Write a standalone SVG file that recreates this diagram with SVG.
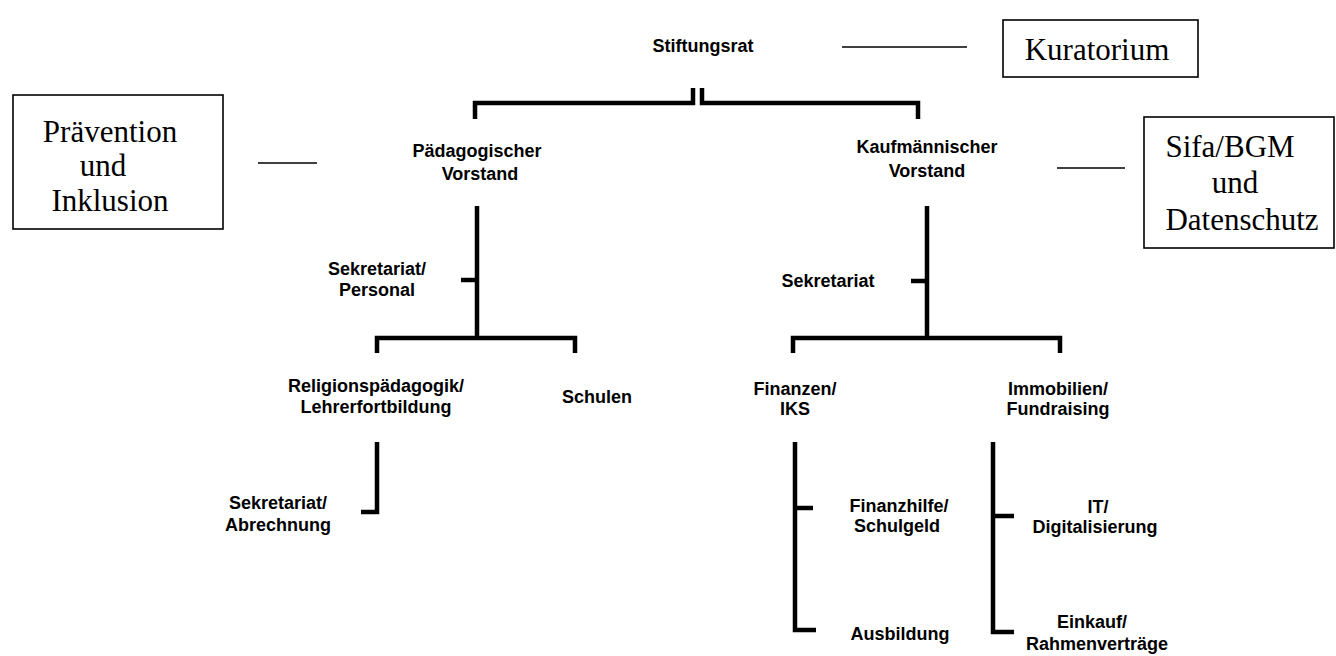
<svg xmlns="http://www.w3.org/2000/svg" width="1336" height="656" viewBox="0 0 1336 656">
<style>
.t{font-family:"Liberation Sans",Arial,sans-serif;font-weight:bold;font-size:18px;fill:#000;text-anchor:middle}
.s{font-family:"Liberation Serif","Times New Roman",serif;font-size:31px;fill:#000;text-anchor:middle}
.box{fill:#fff;stroke:#000;stroke-width:1.6}
.thin{stroke:#000;stroke-width:1.6;fill:none}
.thick{stroke:#000;stroke-width:4.5;fill:none;stroke-linejoin:miter;stroke-linecap:butt}
</style>
<rect width="1336" height="656" fill="#fff"/>
<g id="connectors">
<path class="thick" d="M693,88 V103 H475 V119"/>
<path class="thick" d="M702,88 V103 H918 V119"/>
<path class="thick" d="M477,206 V338"/>
<path class="thick" d="M461,280 H477"/>
<path class="thick" d="M377,353 V338 H575 V353"/>
<path class="thick" d="M377,442 V512 H361"/>
<path class="thick" d="M927,206 V338"/>
<path class="thick" d="M911,281 H927"/>
<path class="thick" d="M793,353 V338 H1060 V353"/>
<path class="thick" d="M795,442 V630 H816"/>
<path class="thick" d="M795,508 H813"/>
<path class="thick" d="M993,442 V632 H1014"/>
<path class="thick" d="M993,516 H1014"/>
<path class="thin" d="M842,47 H967"/>
<path class="thin" d="M258,163 H317"/>
<path class="thin" d="M1057,168 H1125"/>
</g>
<g id="stiftungsrat"><text class="t" x="703" y="52">Stiftungsrat</text></g>
<g id="kuratorium"><rect class="box" x="1003" y="20" width="195" height="57"/><text class="s" x="1097" y="60">Kuratorium</text></g>
<g id="praevention"><rect class="box" x="13" y="95" width="210" height="134"/><text class="s" x="110" y="142">Prävention</text><text class="s" x="103" y="176">und</text><text class="s" x="110" y="211">Inklusion</text></g>
<g id="sifa"><rect class="box" x="1144" y="117" width="190" height="131"/><text class="s" x="1230" y="157">Sifa/BGM</text><text class="s" x="1235" y="193">und</text><text class="s" x="1242" y="230">Datenschutz</text></g>
<g id="paed-vorstand"><text class="t" x="477" y="157">Pädagogischer</text><text class="t" x="480" y="180">Vorstand</text></g>
<g id="kauf-vorstand"><text class="t" x="927" y="153">Kaufmännischer</text><text class="t" x="927" y="177">Vorstand</text></g>
<g id="sekretariat-personal"><text class="t" x="377" y="275">Sekretariat/</text><text class="t" x="377" y="296">Personal</text></g>
<g id="sekretariat"><text class="t" x="828" y="287">Sekretariat</text></g>
<g id="religion"><text class="t" x="376" y="392">Religionspädagogik/</text><text class="t" x="376" y="413">Lehrerfortbildung</text></g>
<g id="schulen"><text class="t" x="597" y="403">Schulen</text></g>
<g id="sekretariat-abrechnung"><text class="t" x="278" y="509">Sekretariat/</text><text class="t" x="278" y="531">Abrechnung</text></g>
<g id="finanzen"><text class="t" x="795" y="395">Finanzen/</text><text class="t" x="795" y="415">IKS</text></g>
<g id="immobilien"><text class="t" x="1058" y="395">Immobilien/</text><text class="t" x="1058" y="415">Fundraising</text></g>
<g id="finanzhilfe"><text class="t" x="899" y="512">Finanzhilfe/</text><text class="t" x="897" y="532">Schulgeld</text></g>
<g id="ausbildung"><text class="t" x="900" y="640">Ausbildung</text></g>
<g id="it"><text class="t" x="1098" y="513">IT/</text><text class="t" x="1095" y="533">Digitalisierung</text></g>
<g id="einkauf"><text class="t" x="1092" y="628">Einkauf/</text><text class="t" x="1097" y="650">Rahmenverträge</text></g>
</svg>
